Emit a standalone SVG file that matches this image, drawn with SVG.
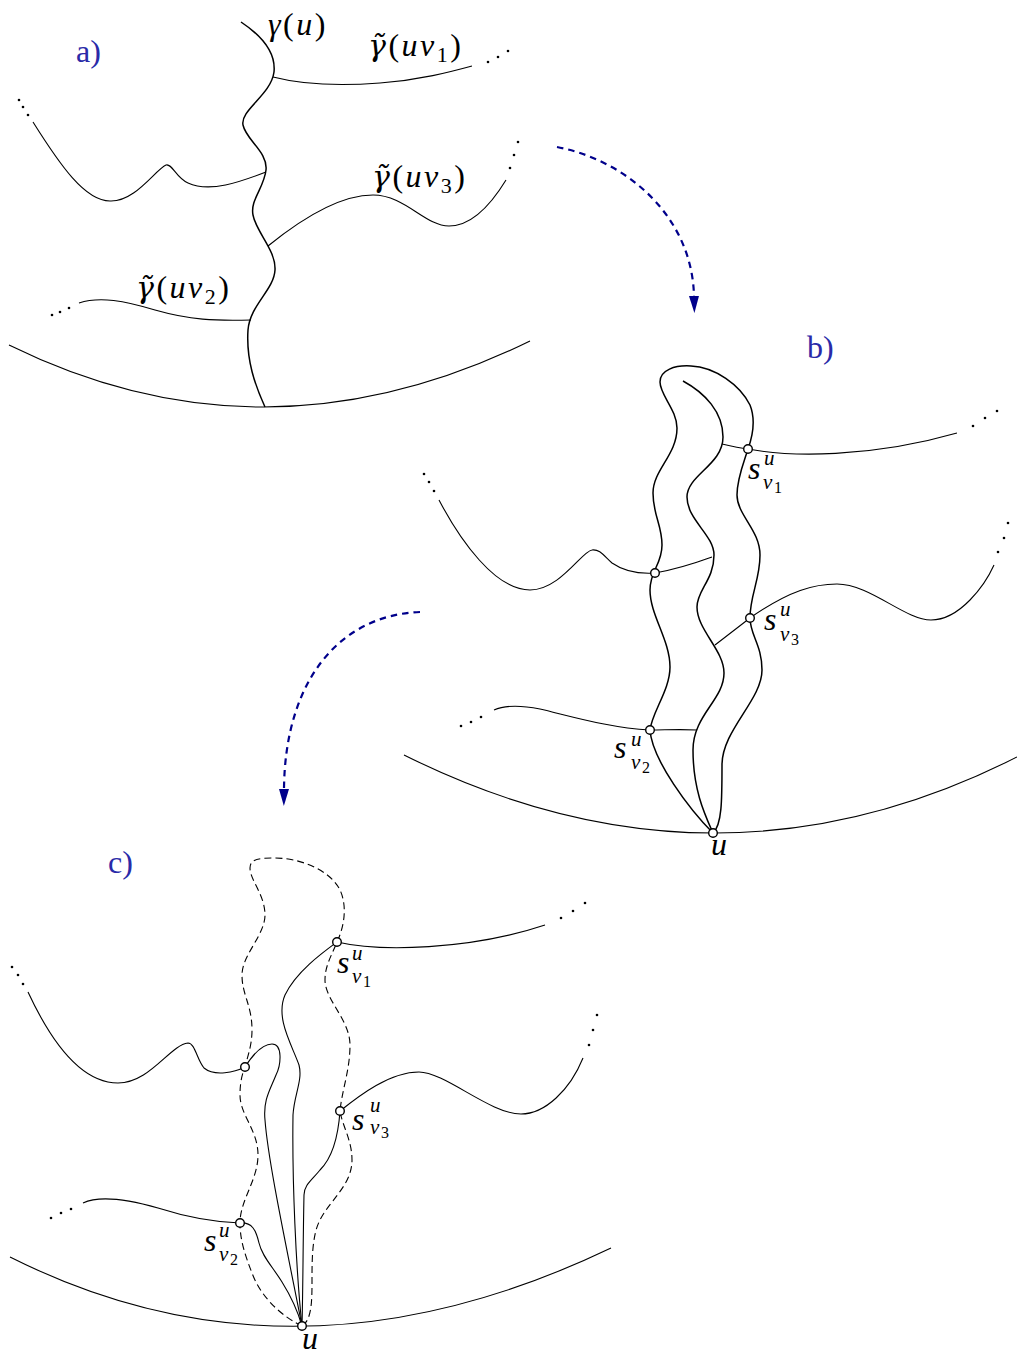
<svg xmlns="http://www.w3.org/2000/svg" width="1017" height="1355" viewBox="0 0 1017 1355">
<defs>
<style>
.thin{fill:none;stroke:#000;stroke-width:1.1}
.thick{fill:none;stroke:#000;stroke-width:1.5}
.dash{fill:none;stroke:#000;stroke-width:1.1;stroke-dasharray:7 4}
.arr{fill:none;stroke:#00008b;stroke-width:2.2;stroke-dasharray:6.5 5}
.node{fill:#fff;stroke:#000;stroke-width:1.4}
.dot{fill:#000}
.m{font-family:"Liberation Serif","DejaVu Serif",serif;font-size:32px;font-style:italic;fill:#000}
.g{letter-spacing:2.5px}
.gam{font-family:"DejaVu Serif","Liberation Serif",serif;font-size:30px;font-style:italic}
.up{font-style:normal}
.sc{font-family:"Liberation Serif","DejaVu Serif",serif;font-size:21px;font-style:italic}
.d{font-family:"Liberation Serif","DejaVu Serif",serif;font-size:22px;font-style:normal}
.ss{font-family:"Liberation Serif","DejaVu Serif",serif;font-size:16px;font-style:normal}
.panel{font-family:"Liberation Serif","DejaVu Serif",serif;font-size:32px;font-style:normal;fill:#2a2aa8}
</style>
<marker id="ah" markerUnits="userSpaceOnUse" markerWidth="18" markerHeight="12" refX="0" refY="6" orient="auto"><path d="M0,1 L17,6 L0,11 z" fill="#00008b"/></marker>
</defs>
<rect width="1017" height="1355" fill="#fff"/>

<g id="connectors">
<path class="thick" d="M241,22 C262,36 276,52 274,72 C271,95 240,110 243,125 C246,140 268,152 266,170 C264,188 250,200 253,215 C256,232 276,250 275,270 C274,290 250,305 248,330 C246,360 255,385 265,407"/>
<path class="thin" d="M273,77 C300,84 340,86 380,83 C420,80 450,72 472,66"/>
<path class="thin" d="M33,122 C60,165 85,201 110,201 C135,202 155,170 166,165 C172,163 176,178 188,183 C210,193 240,182 266,172"/>
<path class="thin" d="M268,246 C300,220 340,195 373,195 C405,195 425,226 449,226 C475,226 495,198 506,180"/>
<path class="thin" d="M79,303 C100,296 125,301 155,310 C190,320 215,321 251,320"/>
<path class="thin" d="M9,345 Q265,471 530,341"/>
<path class="thick" d="M713,833 C690,810 652,760 650,730 C652,712 670,690 670,667 C670,640 650,615 650,590 C650,570 662,565 662,545 C662,525 653,515 653,493 C653,470 677,455 677,428 C677,410 660,395 660,382 C660,370 675,365 691,366 C715,367 740,385 750,405 C756,420 753,435 748,449 C744,462 737,478 737,495 C737,515 760,530 760,555 C760,580 750,595 750,618 C750,635 762,645 762,670 C762,700 722,730 722,765 C722,800 722,825 713,833"/>
<path class="thick" d="M683,381 C705,393 723,412 723,437 C723,465 687,475 687,497 C687,520 714,535 714,555 C714,580 697,590 697,607 C697,630 724,650 724,673 C724,700 693,715 693,750 C693,790 705,815 713,833"/>
<path class="thin" d="M722,444 C735,447 740,448 748,449 C790,457 870,458 957,433"/>
<path class="thin" d="M712,557 C690,565 672,570 655,573 C640,574 625,572 612,563 C604,556 600,549 592,550 C582,551 560,590 530,590 C495,590 460,540 439,500"/>
<path class="thin" d="M715,645 L750,618 C790,590 815,584 837,584 C870,584 905,620 931,620 C960,620 985,585 994,565"/>
<path class="thin" d="M697,730 C680,729 665,730 650,730 C610,728 570,716 540,709 C520,705 505,705 494,710"/>
<path class="thin" d="M404,755 Q715,910 1017,757"/>
<path class="dash" d="M302,1326 C285,1318 262,1300 252,1273 C245,1255 240,1240 240,1223 C240,1200 258,1180 258,1155 C258,1130 240,1115 240,1095 C240,1080 243,1072 245,1067 C248,1055 252,1045 252,1030 C252,1005 242,995 242,975 C242,955 265,935 265,915 C265,895 250,880 250,868 C250,858 262,858 275,858 C300,858 330,870 340,890 C347,905 345,925 337,942 C332,955 325,965 325,980 C325,1000 350,1020 350,1045 C350,1070 342,1090 340,1111 C342,1125 352,1140 352,1160 C352,1185 330,1200 320,1220 C312,1235 312,1260 312,1280 C312,1300 312,1320 302,1326"/>
<path class="thin" d="M337,942 C322,953 296,972 285,995 C275,1018 292,1045 299,1065 C303,1080 294,1095 293,1115 C292,1180 296,1270 302,1326"/>
<path class="thin" d="M245,1067 C252,1056 262,1044 272,1044 C283,1044 281,1065 276,1075 C270,1090 263,1100 265,1120 C268,1160 285,1240 302,1326"/>
<path class="thin" d="M340,1111 C338,1140 330,1160 320,1170 C312,1180 304,1185 304,1195 C303,1240 303,1290 302,1326"/>
<path class="thin" d="M240,1223 C252,1222 256,1230 259,1243 C262,1256 272,1266 282,1282 C292,1298 298,1312 302,1326"/>
<path class="thin" d="M337,942 C380,952 470,950 545,925"/>
<path class="thin" d="M245,1067 C235,1072 215,1077 204,1068 C197,1060 195,1043 188,1043 C170,1045 150,1083 118,1083 C85,1083 55,1050 28,992"/>
<path class="thin" d="M340,1111 C360,1095 390,1072 419,1072 C445,1072 490,1114 521,1114 C545,1114 570,1090 583,1058"/>
<path class="thin" d="M240,1223 C210,1222 180,1215 158,1208 C130,1200 100,1195 83,1203"/>
<path class="thin" d="M10,1257 Q294,1400 611,1248"/>
<path class="arr" d="M557,147 C625,160 692,215 694,296" marker-end="url(#ah)"/>
<path class="arr" d="M420,612 C340,615 285,680 284,789" marker-end="url(#ah)"/>
</g>

<g id="dots">
<circle class="dot" cx="488" cy="62" r="1.3"/><circle class="dot" cx="498" cy="57" r="1.3"/><circle class="dot" cx="508" cy="51" r="1.3"/>
<circle class="dot" cx="19" cy="100" r="1.3"/><circle class="dot" cx="23" cy="107" r="1.3"/><circle class="dot" cx="28" cy="115" r="1.3"/>
<circle class="dot" cx="518" cy="142" r="1.3"/><circle class="dot" cx="514" cy="155" r="1.3"/><circle class="dot" cx="510" cy="168" r="1.3"/>
<circle class="dot" cx="52" cy="315" r="1.3"/><circle class="dot" cx="60" cy="312" r="1.3"/><circle class="dot" cx="69" cy="308" r="1.3"/>
<circle class="dot" cx="973" cy="426" r="1.3"/><circle class="dot" cx="985" cy="418" r="1.3"/><circle class="dot" cx="997" cy="411" r="1.3"/>
<circle class="dot" cx="424" cy="474" r="1.3"/><circle class="dot" cx="429" cy="482" r="1.3"/><circle class="dot" cx="434" cy="491" r="1.3"/>
<circle class="dot" cx="998" cy="552" r="1.3"/><circle class="dot" cx="1004" cy="538" r="1.3"/><circle class="dot" cx="1008" cy="523" r="1.3"/>
<circle class="dot" cx="461" cy="726" r="1.3"/><circle class="dot" cx="471" cy="722" r="1.3"/><circle class="dot" cx="481" cy="717" r="1.3"/>
<circle class="dot" cx="561" cy="918" r="1.3"/><circle class="dot" cx="573" cy="911" r="1.3"/><circle class="dot" cx="585" cy="903" r="1.3"/>
<circle class="dot" cx="12" cy="967" r="1.3"/><circle class="dot" cx="18" cy="975" r="1.3"/><circle class="dot" cx="23" cy="984" r="1.3"/>
<circle class="dot" cx="589" cy="1045" r="1.3"/><circle class="dot" cx="593" cy="1030" r="1.3"/><circle class="dot" cx="597" cy="1015" r="1.3"/>
<circle class="dot" cx="51" cy="1218" r="1.3"/><circle class="dot" cx="61" cy="1213" r="1.3"/><circle class="dot" cx="71" cy="1209" r="1.3"/>
</g>

<g id="labels">
<text class="panel" x="76" y="62">a)</text>
<text class="panel" x="807" y="358">b)</text>
<text class="panel" x="108" y="873">c)</text>
<text class="m g" x="268" y="35">γ<tspan class="up">(</tspan>u<tspan class="up">)</tspan></text>
<text class="m g" x="368" y="56"><tspan class="gam">γ̃</tspan><tspan class="up">(</tspan>uv<tspan class="d" dy="6">1</tspan><tspan class="up" dy="-6">)</tspan></text>
<text class="m g" x="372" y="187"><tspan class="gam">γ̃</tspan><tspan class="up">(</tspan>uv<tspan class="d" dy="6">3</tspan><tspan class="up" dy="-6">)</tspan></text>
<text class="m g" x="136" y="298"><tspan class="gam">γ̃</tspan><tspan class="up">(</tspan>uv<tspan class="d" dy="6">2</tspan><tspan class="up" dy="-6">)</tspan></text>
</g>

<g id="node-b-sv1"><circle class="node" cx="748" cy="449" r="4.3"/><text class="m" x="748" y="479">s<tspan class="sc" x="764" y="465">u</tspan><tspan class="sc" x="763" y="489">v</tspan><tspan class="ss" x="774" y="493">1</tspan></text></g>
<g id="node-b-left"><circle class="node" cx="655" cy="573" r="4.3"/></g>
<g id="node-b-sv3"><circle class="node" cx="750" cy="618" r="4.3"/><text class="m" x="764" y="630">s<tspan class="sc" x="780" y="616">u</tspan><tspan class="sc" x="780" y="641">v</tspan><tspan class="ss" x="791" y="645">3</tspan></text></g>
<g id="node-b-sv2"><circle class="node" cx="650" cy="730" r="4.3"/><text class="m" x="614" y="758">s<tspan class="sc" x="631" y="746">u</tspan><tspan class="sc" x="631" y="769">v</tspan><tspan class="ss" x="642" y="773">2</tspan></text></g>
<g id="node-b-u"><circle class="node" cx="713" cy="833" r="4.3"/><text class="m" x="711" y="855">u</text></g>

<g id="node-c-sv1"><circle class="node" cx="337" cy="942" r="4.3"/><text class="m" x="337" y="973">s<tspan class="sc" x="352" y="960">u</tspan><tspan class="sc" x="352" y="983">v</tspan><tspan class="ss" x="363" y="987">1</tspan></text></g>
<g id="node-c-left"><circle class="node" cx="245" cy="1067" r="4.3"/></g>
<g id="node-c-sv3"><circle class="node" cx="340" cy="1111" r="4.3"/><text class="m" x="352" y="1130">s<tspan class="sc" x="370" y="1112">u</tspan><tspan class="sc" x="370" y="1134">v</tspan><tspan class="ss" x="381" y="1138">3</tspan></text></g>
<g id="node-c-sv2"><circle class="node" cx="240" cy="1223" r="4.3"/><text class="m" x="204" y="1251">s<tspan class="sc" x="219" y="1237">u</tspan><tspan class="sc" x="219" y="1261">v</tspan><tspan class="ss" x="230" y="1265">2</tspan></text></g>
<g id="node-c-u"><circle class="node" cx="302" cy="1326" r="4.3"/><text class="m" x="302" y="1349">u</text></g>
</svg>
